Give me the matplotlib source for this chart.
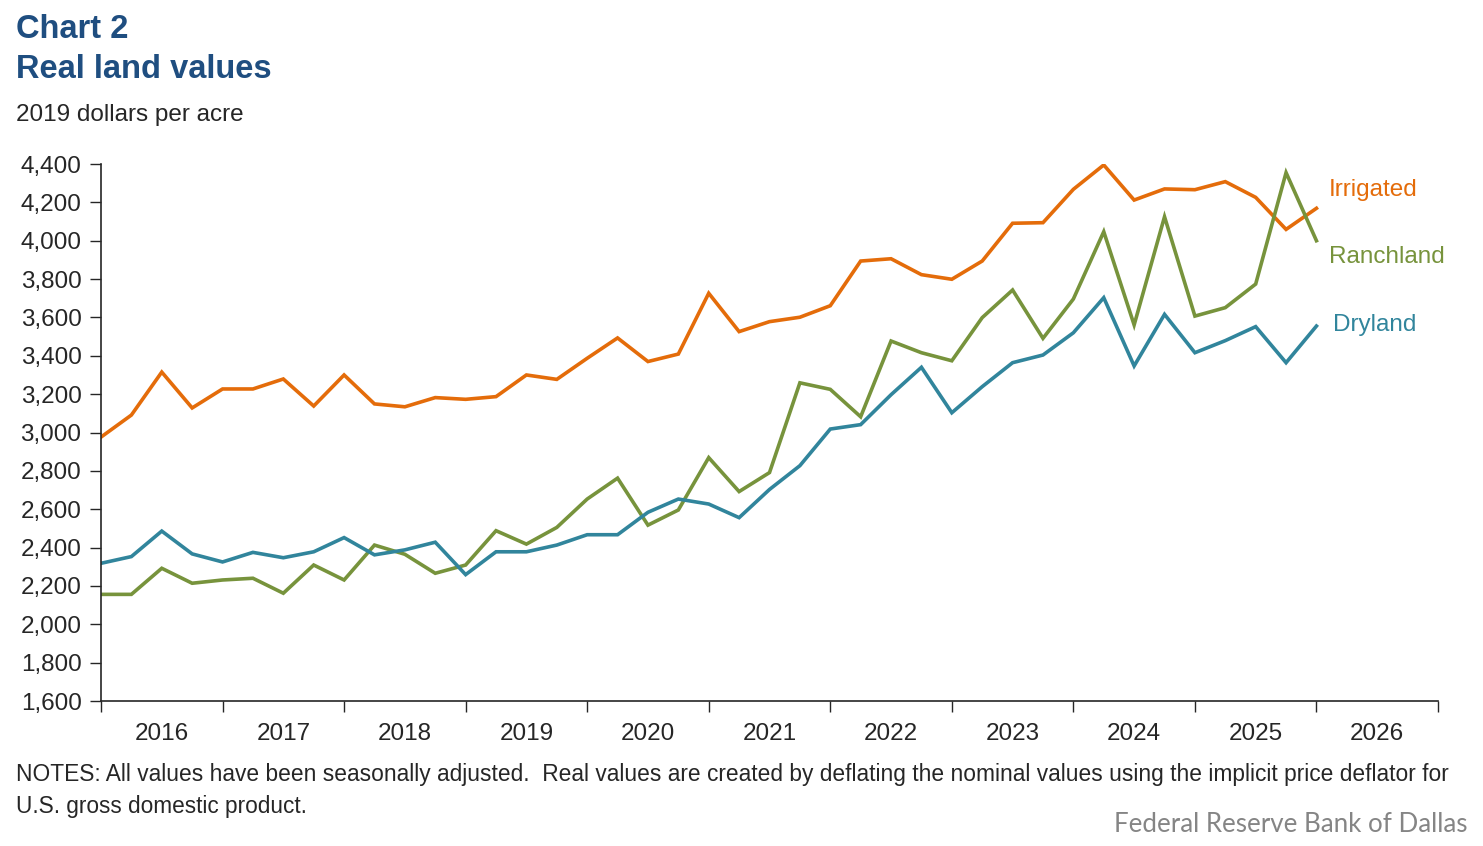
import matplotlib
matplotlib.use("Agg")
import matplotlib.pyplot as plt
import numpy as np

# quarterly, 2016Q1 .. 2026Q1
years = [str(y) for y in range(2016, 2027)]

irrigated = [2976, 3091, 3315, 3128, 3227, 3227, 3279, 3138, 3300, 3149,
             3134, 3182, 3173, 3187, 3300, 3277, 3387, 3493, 3370, 3409,
             3726, 3526, 3578, 3601, 3661, 3894, 3906, 3823, 3799, 3894,
             4091, 4094, 4268, 4395, 4212, 4270, 4266, 4308, 4226, 4059,
             4169]
ranchland = [2156, 2156, 2292, 2214, 2231, 2240, 2162, 2309, 2231, 2413,
             2365, 2266, 2309, 2488, 2418, 2505, 2653, 2762, 2517, 2596,
             2869, 2692, 2791, 3259, 3225, 3082, 3477, 3416, 3374, 3599,
             3743, 3491, 3696, 4047, 3561, 4125, 3607, 3651, 3774, 4355,
             4000]
dryland = [2318, 2353, 2486, 2367, 2325, 2375, 2347, 2378, 2452, 2362,
           2388, 2428, 2259, 2378, 2378, 2413, 2467, 2467, 2584, 2653,
           2627, 2556, 2703, 2827, 3018, 3041, 3197, 3340, 3103, 3239,
           3364, 3404, 3520, 3703, 3347, 3616, 3416, 3479, 3552, 3364,
           3555]

c_irr = "#E46C0A"
c_ran = "#77933C"
c_dry = "#31859C"
c_txt = "#262626"
c_title = "#1F4E80"

plt.rcParams['font.family'] = ['Liberation Sans', 'DejaVu Sans']

fig = plt.figure(figsize=(14.83, 8.46), dpi=100)
ax = fig.add_axes([101/1483, 1-701/846, (1438-101)/1483, (701-164)/846])

x = np.arange(len(irrigated))
ax.plot(x, irrigated, color=c_irr, lw=2.6, solid_joinstyle='miter')
ax.plot(x, ranchland, color=c_ran, lw=2.6, solid_joinstyle='miter')
ax.plot(x, dryland, color=c_dry, lw=2.6, solid_joinstyle='miter')

ax.set_xlim(0, 4*len(years))
ax.set_ylim(1600, 4400)
ax.set_yticks(range(1600, 4401, 200))
ax.set_yticklabels([f"{v:,}" for v in range(1600, 4401, 200)])
ax.set_xticks(range(0, 4*len(years)+1, 4))
ax.set_xticklabels([])
ax.set_xticks([4*i+2 for i in range(len(years))], minor=True)
ax.set_xticklabels(years, minor=True)
ax.tick_params(axis='x', which='minor', length=0, pad=16, labelsize=17.5, labelcolor=c_txt)
ax.tick_params(axis='x', which='major', length=8, width=1, color=c_txt, direction='out')
ax.tick_params(axis='y', length=8, width=1, color=c_txt, labelsize=17.5, labelcolor=c_txt, pad=6)

for s in ['top', 'right']:
    ax.spines[s].set_visible(False)
for s in ['left', 'bottom']:
    ax.spines[s].set_color(c_txt)
    ax.spines[s].set_linewidth(1.2)

# series labels
ax.text(40.4, 4264, "Irrigated", color=c_irr, fontsize=17.5, va='center')
ax.text(40.4, 3915, "Ranchland", color=c_ran, fontsize=17.5, va='center')
ax.text(40.55, 3560, "Dryland", color=c_dry, fontsize=17.5, va='center')

fig.text(16/1483, 1-29/846, "Chart 2", color=c_title, fontsize=23.5, fontweight='bold', va='center')
fig.text(16/1483, 1-69/846, "Real land values", color=c_title, fontsize=23.5, fontweight='bold', va='center')
fig.text(16/1483, 1-115/846, "2019 dollars per acre", color=c_txt, fontsize=17.5, va='center')

fig.text(16/1483, 1-774/846,
         "NOTES: All values have been seasonally adjusted.  Real values are created by deflating the nominal values using the implicit price deflator for",
         color=c_txt, fontsize=16.4, va='center')
fig.text(16/1483, 1-806/846, "U.S. gross domestic product.", color=c_txt, fontsize=16.3, va='center')
fig.text(1467/1483, 1-824/846, "Federal Reserve Bank of Dallas", color="#858585",
         fontsize=18.6, va='center', ha='right', family=['Lato', 'DejaVu Sans'])

fig.savefig("out.png", dpi=100)
